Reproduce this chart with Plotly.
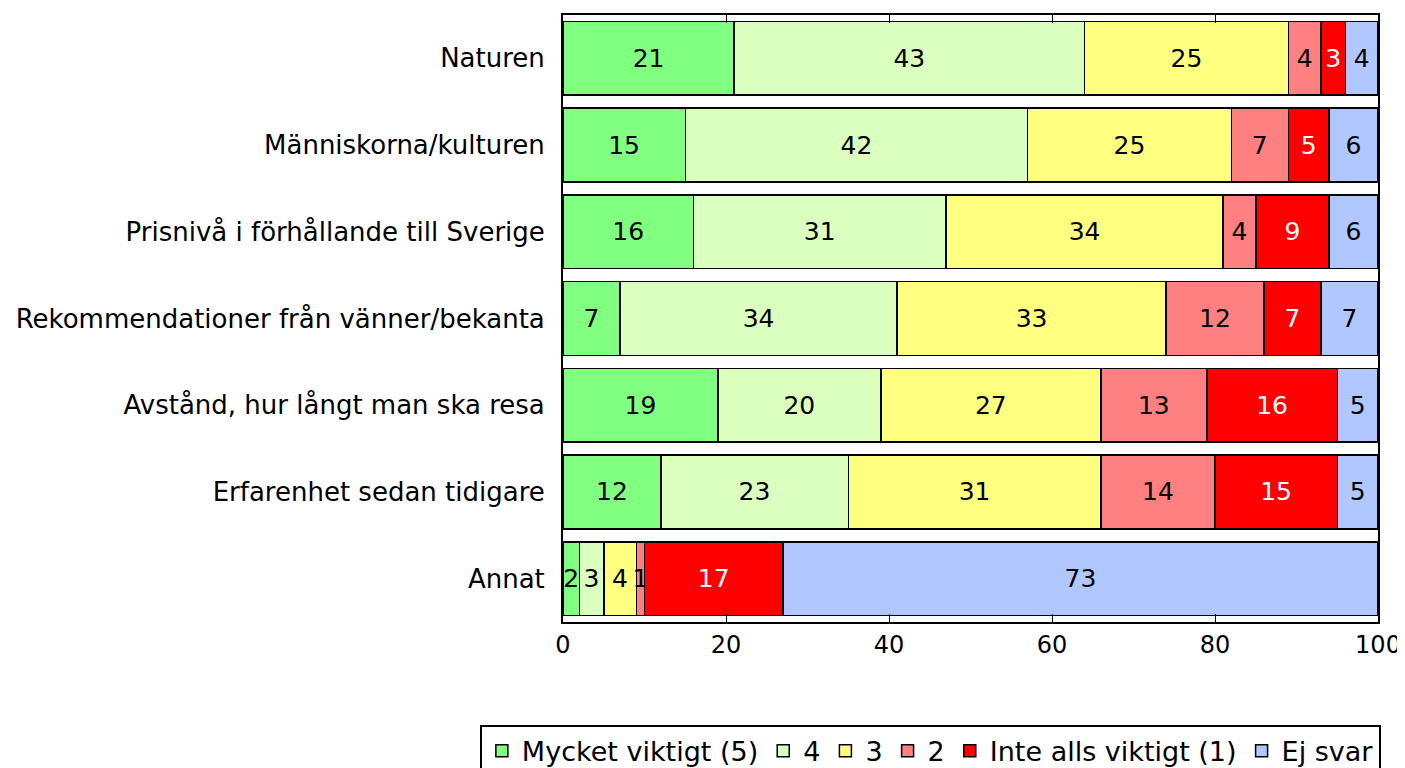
import plotly.graph_objects as go

categories = [
    "Naturen",
    "Människorna/kulturen",
    "Prisnivå i förhållande till Sverige",
    "Rekommendationer från vänner/bekanta",
    "Avstånd, hur långt man ska resa",
    "Erfarenhet sedan tidigare",
    "Annat",
]
series_names = ["Mycket viktigt (5)", "4", "3", "2", "Inte alls viktigt (1)", "Ej svar"]
v5 = [21, 15, 16, 7, 19, 12, 2]
v4 = [43, 42, 31, 34, 20, 23, 3]
v3 = [25, 25, 34, 33, 27, 31, 4]
v2 = [4, 7, 4, 12, 13, 14, 1]
v1 = [3, 5, 9, 7, 16, 15, 17]
ej = [4, 6, 6, 7, 5, 5, 73]
x_ticks = [0, 20, 40, 60, 80, 100]

series_values = [v5, v4, v3, v2, v1, ej]
colors = ["#80FF80", "#DAFFBF", "#FFFF80", "#FF8080", "#FF0000", "#B0C8FF"]
text_colors = ["black", "black", "black", "black", "white", "black"]

FONT = "DejaVu Sans"

fig = go.Figure()
for name, vals, col, tc in zip(series_names, series_values, colors, text_colors):
    fig.add_trace(go.Bar(
        y=categories, x=vals, name=name, orientation="h",
        marker=dict(color=col, line=dict(color="black", width=1.5)),
        text=[str(v) for v in vals], textposition="inside",
        insidetextanchor="middle", textangle=0, constraintext="none",
        textfont=dict(family=FONT, size=25, color=tc),
        hoverinfo="skip",
    ))

fig.update_layout(
    barmode="stack",
    bargap=0.15,
    width=1405, height=768,
    margin=dict(l=555, r=35, t=7, b=154, autoexpand=False),
    paper_bgcolor="white", plot_bgcolor="white",
    font=dict(family=FONT, size=22, color="black"),
    legend=dict(
        orientation="h", x=-0.102, xanchor="left", y=-0.169, yanchor="top",
        bordercolor="black", borderwidth=2,
        font=dict(family=FONT, size=27),
        traceorder="normal", itemwidth=30,
    ),
    xaxis=dict(
        range=[0, 100], tickvals=x_ticks, ticks="inside", ticklen=8,
        tickcolor="black", showline=True, linecolor="black", linewidth=2,
        mirror="ticks", showgrid=False, zeroline=False,
        tickfont=dict(family=FONT, size=24),
    ),
    yaxis=dict(
        categoryorder="array", categoryarray=categories[::-1],
        autorange=False, range=[-0.5, 6.5],
        showline=True, linecolor="black", linewidth=2, mirror=True,
        showgrid=False, ticks="", ticklabelstandoff=11,
        tickfont=dict(family=FONT, size=26),
    ),
)

fig.write_html("out.html")
